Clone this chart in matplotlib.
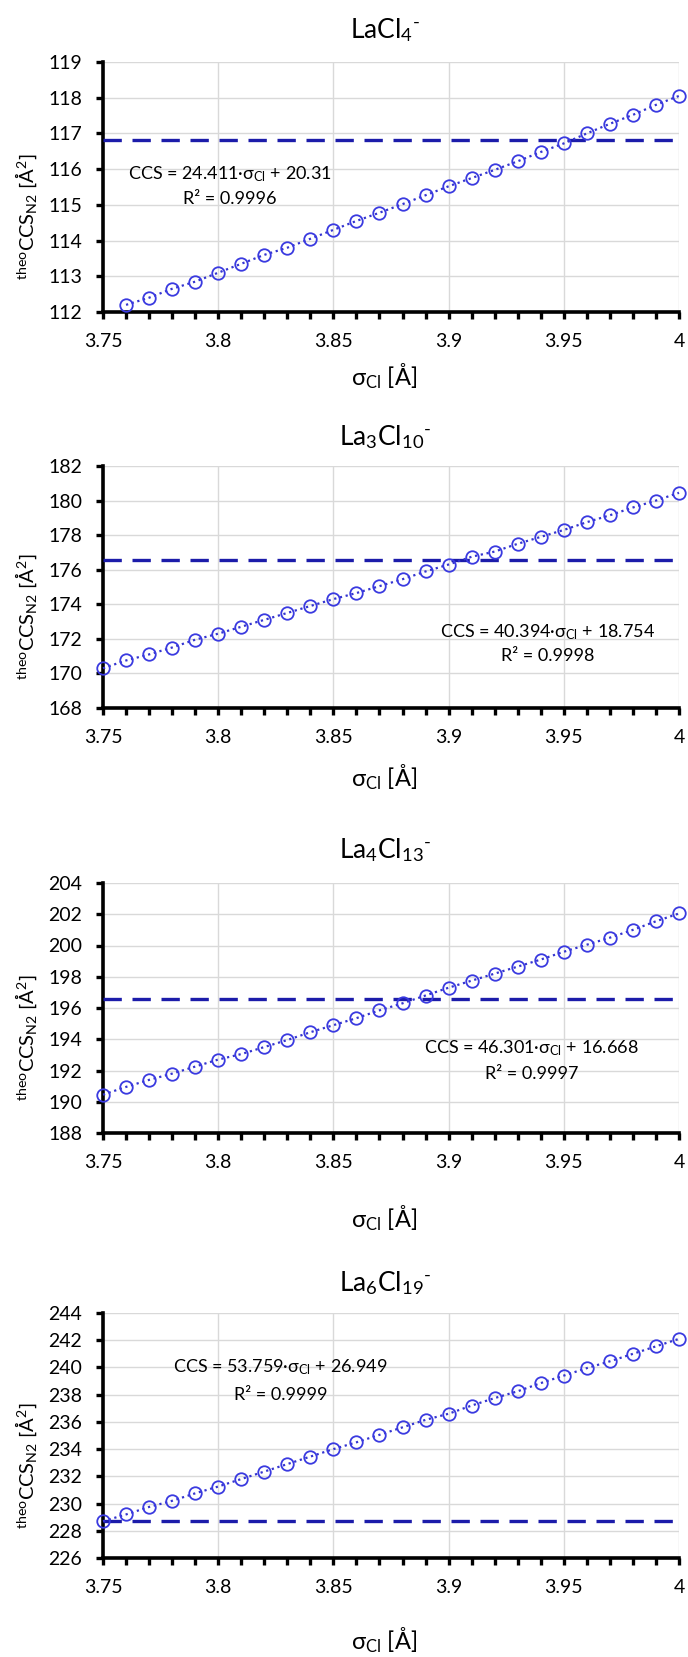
import numpy as np
import matplotlib
matplotlib.use('Agg')
import matplotlib.pyplot as plt
from matplotlib.ticker import MultipleLocator

plt.rcParams['font.family'] = ['Lato', 'DejaVu Sans']
plt.rcParams['mathtext.fontset'] = 'custom'
plt.rcParams['mathtext.rm'] = 'Lato'
plt.rcParams['mathtext.it'] = 'Lato:italic'

# sigma_Cl values (Angstrom)
sigma_all = [3.75, 3.76, 3.77, 3.78, 3.79, 3.80, 3.81, 3.82, 3.83, 3.84, 3.85, 3.86, 3.87,
             3.88, 3.89, 3.90, 3.91, 3.92, 3.93, 3.94, 3.95, 3.96, 3.97, 3.98, 3.99, 4.00]

# LaCl4- (starts at 3.76)
ccs_lacl4 = [112.2, 112.4, 112.65, 112.85, 113.1, 113.35, 113.6, 113.8, 114.05, 114.3,
             114.55, 114.78, 115.02, 115.27, 115.52, 115.75, 115.98, 116.22, 116.48,
             116.72, 117.0, 117.27, 117.52, 117.8, 118.05]
# La3Cl10-
ccs_la3cl10 = [170.3, 170.75, 171.1, 171.5, 171.95, 172.3, 172.7, 173.1, 173.5, 173.9,
               174.3, 174.65, 175.05, 175.45, 175.9, 176.3, 176.75, 177.05, 177.5, 177.9,
               178.3, 178.75, 179.15, 179.6, 180.0, 180.45]
# La4Cl13-
ccs_la4cl13 = [190.45, 190.95, 191.4, 191.8, 192.25, 192.7, 193.05, 193.5, 193.95, 194.45,
               194.9, 195.35, 195.85, 196.3, 196.8, 197.3, 197.75, 198.2, 198.65, 199.1,
               199.6, 200.05, 200.5, 201.0, 201.55, 202.05]
# La6Cl19-
ccs_la6cl19 = [228.7, 229.2, 229.75, 230.2, 230.75, 231.25, 231.8, 232.35, 232.9, 233.45,
               234.0, 234.5, 235.05, 235.6, 236.15, 236.6, 237.2, 237.75, 238.25, 238.85,
               239.4, 239.95, 240.45, 241.0, 241.55, 242.1]

# experimental CCS (dashed lines)
ccs_exp = [116.82, 176.55, 196.6, 228.7]

titles = ['LaCl$_4$$^{\u2010}$', 'La$_3$Cl$_{10}$$^{\u2010}$',
          'La$_4$Cl$_{13}$$^{\u2010}$', 'La$_6$Cl$_{19}$$^{\u2010}$']
equations = ['CCS = 24.411·σ$_{\\mathrm{Cl}}$ + 20.31',
             'CCS = 40.394·σ$_{\\mathrm{Cl}}$ + 18.754',
             'CCS = 46.301·σ$_{\\mathrm{Cl}}$ + 16.668',
             'CCS = 53.759·σ$_{\\mathrm{Cl}}$ + 26.949']
r2_labels = ['R² = 0.9996', 'R² = 0.9998', 'R² = 0.9997', 'R² = 0.9999']
ylims = [(112, 119), (168, 182), (188, 204), (226, 244)]
ysteps = [1, 2, 2, 2]
eq_pos = [(3.805, 115.85, 115.15), (3.943, 172.4, 171.0),
          (3.936, 193.4, 191.8), (3.827, 240.0, 238.0)]

series = [(sigma_all[1:], ccs_lacl4), (sigma_all, ccs_la3cl10),
          (sigma_all, ccs_la4cl13), (sigma_all, ccs_la6cl19)]

# layout in pixels: axes top, axes bottom, title centre y, xlabel centre y
W, H = 688, 1657
boxes = [(62, 312, 30, 376), (466, 708, 437, 777), (883, 1133, 850, 1218),
         (1313, 1558, 1283, 1640)]
left, right = 103, 679

fig = plt.figure(figsize=(W / 100, H / 100), dpi=100)

for i in range(4):
    top, bot, t_y, xl_y = boxes[i]
    ax = fig.add_axes([left / W, 1 - bot / H, (right - left) / W, (bot - top) / H])
    x, y = series[i]
    ax.plot(x, y, linestyle=':', color='#3434d0', linewidth=1.6,
            marker='o', markersize=9, markerfacecolor='none',
            markeredgecolor='#3a3ae0', markeredgewidth=1.3, clip_on=False, zorder=4)
    ax.axhline(ccs_exp[i], color='#1c1caa', linestyle=(0, (5.5, 3.2)), linewidth=2.4, zorder=3)

    ax.set_xlim(3.75, 4.0)
    ax.set_ylim(*ylims[i])
    ax.xaxis.set_minor_locator(MultipleLocator(0.01))
    ax.yaxis.set_major_locator(MultipleLocator(ysteps[i]))
    ax.set_xticks([3.75, 3.8, 3.85, 3.9, 3.95, 4.0])
    ax.set_xticklabels(['3.75', '3.8', '3.85', '3.9', '3.95', '4'])

    ax.grid(True, which='major', color='#d9d9d9', linewidth=1.0, zorder=0)
    ax.set_axisbelow(True)
    for s in ['top', 'right']:
        ax.spines[s].set_visible(False)
    for s in ['left', 'bottom']:
        ax.spines[s].set_linewidth(2.6)
        ax.spines[s].set_color('black')
    ax.tick_params(axis='both', which='both', direction='out', width=2.4, length=5,
                   labelsize=14, color='black')
    ax.tick_params(axis='y', which='minor', left=False)
    ax.tick_params(axis='x', pad=10)
    ax.tick_params(axis='y', pad=10)

    fig.text(385 / W, 1 - t_y / H, titles[i], ha='center', va='center', fontsize=19)
    # y label, sits a little below the middle of the plot area
    fig.text(26 / W, 1 - ((top + bot) / 2 + 30) / H,
             '$^{\\mathrm{theo}}$CCS$_{\\mathrm{N2}}$ [Å$^{2}$]',
             rotation=90, ha='center', va='center', fontsize=14.5)
    fig.text(384 / W, 1 - xl_y / H, 'σ$_{\\mathrm{Cl}}$ [Å]', ha='center', va='center',
             fontsize=17)

    ex, ey1, ey2 = eq_pos[i]
    ax.text(ex, ey1, equations[i], ha='center', va='center', fontsize=13)
    ax.text(ex, ey2, r2_labels[i], ha='center', va='center', fontsize=13)

fig.savefig('out.png', dpi=100)
